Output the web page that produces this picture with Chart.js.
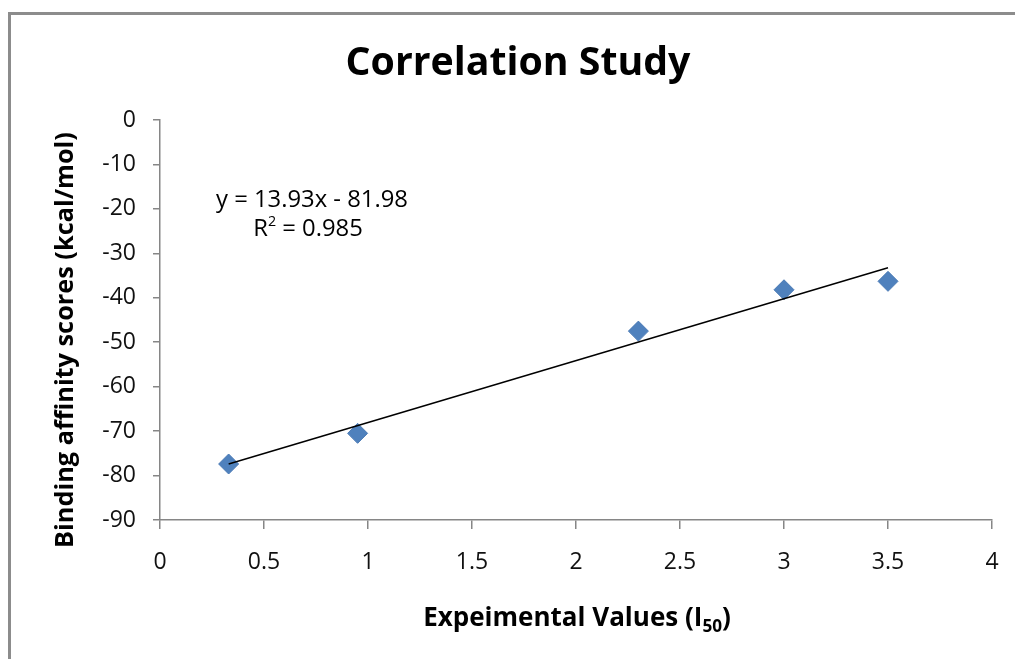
<!DOCTYPE html>
<html>
<head>
<meta charset="utf-8">
<script src="https://cdn.jsdelivr.net/npm/chart.js@4"></script>
<style>
    html, body { margin: 0; padding: 0; background: #fff; }
    #wrap { position: relative; width: 1015px; height: 659px; overflow: hidden; }
    #frame {
        position: absolute; left: 8px; top: 12px; width: 1100px; height: 700px;
        border-left: 3px solid #8c8c8c; border-top: 3px solid #8c8c8c;
    }
    #chart { position: absolute; left: 0; top: 0; }
</style>
</head>
<body>
<div id="wrap">
    <div id="frame"></div>
    <canvas id="chart" width="1015" height="659"></canvas>
</div>
<script>
// ===================== DATA =====================
const experimentalValues = [0.33, 0.95, 2.3, 3.0, 3.5];
const bindingScores = [-77.4, -70.5, -47.5, -38.2, -36.3];
const xTicks = [0, 0.5, 1, 1.5, 2, 2.5, 3, 3.5, 4];
const yTicks = [0, -10, -20, -30, -40, -50, -60, -70, -80, -90];
const trendSlope = 13.93;
const trendIntercept = -81.98;
const equationText = 'y = 13.93x - 81.98';
const rSquaredText = '0.985';

const fontFamily = "'Open Sans', Lato, sans-serif";
const axisGray = '#868686';

// scatter points and trendline built from the arrays above
const points = experimentalValues.map((x, i) => ({ x: x, y: bindingScores[i] }));
const xMin = Math.min(...experimentalValues);
const xMax = Math.max(...experimentalValues);
const trendPoints = [xMin, xMax].map(x => ({ x: x, y: trendSlope * x + trendIntercept }));

// pick a font size so a text fills a given width
function fitSize(ctx, text, weight, width) {
    ctx.font = weight + ' 100px ' + fontFamily;
    return 100 * width / ctx.measureText(text).width;
}

// Titles & equation drawn on top of the chart
const titlesPlugin = {
    id: 'titles',
    afterDraw(chart) {
        const ctx = chart.ctx;
        ctx.save();
        ctx.fillStyle = '#000';
        ctx.textBaseline = 'middle';
        ctx.textAlign = 'center';

        // main title
        let size = fitSize(ctx, 'Correlation Study', 'bold', 345);
        ctx.font = 'bold ' + size + 'px ' + fontFamily;
        ctx.fillText('Correlation Study', 518, 64);

        // y axis title
        const yTitle = 'Binding affinity scores (kcal/mol)';
        size = fitSize(ctx, yTitle, 'bold', 416);
        ctx.save();
        ctx.translate(66, 340);
        ctx.rotate(-Math.PI / 2);
        ctx.font = 'bold ' + size + 'px ' + fontFamily;
        ctx.fillText(yTitle, 0, 0);
        ctx.restore();

        // x axis title with subscript
        const mainPart = 'Expeimental Values (I';
        size = fitSize(ctx, mainPart + '50)', 'bold', 318);
        const subSize = size * 0.66;
        ctx.font = 'bold ' + size + 'px ' + fontFamily;
        const w1 = ctx.measureText(mainPart).width;
        const w3 = ctx.measureText(')').width;
        ctx.font = 'bold ' + subSize + 'px ' + fontFamily;
        const w2 = ctx.measureText('50').width;
        const x0 = 577 - (w1 + w2 + w3) / 2;
        ctx.textAlign = 'left';
        ctx.font = 'bold ' + size + 'px ' + fontFamily;
        ctx.fillText(mainPart, x0, 619);
        ctx.font = 'bold ' + subSize + 'px ' + fontFamily;
        ctx.fillText('50', x0 + w1, 627);
        ctx.font = 'bold ' + size + 'px ' + fontFamily;
        ctx.fillText(')', x0 + w1 + w2, 619);

        // trendline equation
        size = fitSize(ctx, equationText, 'normal', 192);
        ctx.textAlign = 'center';
        ctx.font = size + 'px ' + fontFamily;
        ctx.fillText(equationText, 312, 200);
        const rRest = ' = ' + rSquaredText;
        const wr = ctx.measureText('R').width;
        const wrest = ctx.measureText(rRest).width;
        ctx.font = (size * 0.6) + 'px ' + fontFamily;
        const ws = ctx.measureText('2').width;
        const rx = 308 - (wr + ws + wrest) / 2;
        ctx.textAlign = 'left';
        ctx.font = size + 'px ' + fontFamily;
        ctx.fillText('R', rx, 229);
        ctx.font = (size * 0.6) + 'px ' + fontFamily;
        ctx.fillText('2', rx + wr, 222);
        ctx.font = size + 'px ' + fontFamily;
        ctx.fillText(rRest, rx + wr + ws, 229);
        ctx.restore();
    }
};

const ctx = document.getElementById('chart').getContext('2d');
const chart = new Chart(ctx, {
    type: 'scatter',
    data: {
        datasets: [{
            label: 'Binding affinity',
            data: points,
            pointStyle: 'rectRot',
            pointRadius: 10,
            pointBackgroundColor: '#4f81bd',
            pointBorderColor: '#4a7ab5',
            pointBorderWidth: 1,
            order: 2
        }, {
            type: 'line',
            label: 'Linear trend',
            data: trendPoints,
            borderColor: '#000',
            borderWidth: 1.5,
            pointRadius: 0,
            fill: false,
            order: 1
        }]
    },
    options: {
        responsive: false,
        animation: false,
        layout: {
            padding: { top: 120, left: 0, right: 23, bottom: 0 }
        },
        plugins: {
            legend: { display: false },
            tooltip: { enabled: false },
            title: { display: false }
        },
        scales: {
            x: {
                type: 'linear',
                min: 0,
                max: 4,
                afterBuildTicks(scale) {
                    scale.ticks = xTicks.map(v => ({ value: v }));
                },
                afterFit(scale) {
                    scale.height = 139;
                    scale.paddingLeft = 0;
                    scale.paddingRight = 0;
                },
                border: { display: true, color: axisGray, width: 1.5 },
                grid: {
                    drawOnChartArea: false,
                    drawTicks: true,
                    tickLength: 9,
                    color: axisGray,
                    lineWidth: 1.5
                },
                ticks: {
                    padding: 20,
                    color: '#111',
                    font: { family: fontFamily, size: 23 },
                    maxRotation: 0,
                    autoSkip: false,
                    callback: v => String(v)
                }
            },
            y: {
                type: 'linear',
                min: -90,
                max: 0,
                afterBuildTicks(scale) {
                    scale.ticks = yTicks.map(v => ({ value: v }));
                },
                afterFit(scale) {
                    scale.width = 160;
                },
                border: { display: true, color: axisGray, width: 1.5 },
                grid: {
                    drawOnChartArea: false,
                    drawTicks: true,
                    tickLength: 7,
                    color: axisGray,
                    lineWidth: 1.5
                },
                ticks: {
                    padding: 17,
                    color: '#111',
                    font: { family: fontFamily, size: 23 },
                    autoSkip: false,
                    callback: v => String(v)
                }
            }
        }
    },
    plugins: [titlesPlugin]
});
</script>
</body>
</html>
